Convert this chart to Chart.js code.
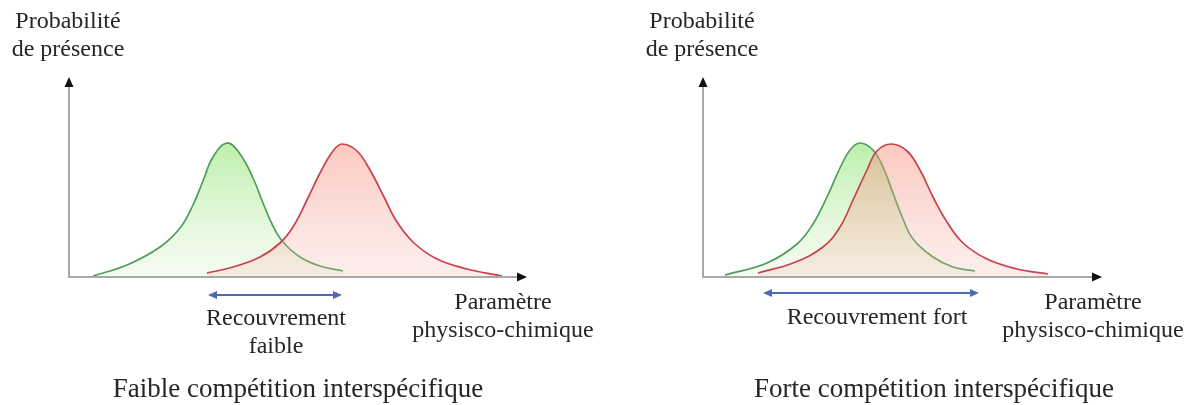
<!DOCTYPE html>
<html>
<head>
<meta charset="utf-8">
<script src="https://cdn.jsdelivr.net/npm/chart.js@4.4.0/dist/chart.umd.min.js"></script>
<style>
  body { margin: 0; background: #fff; }
  #wrap { position: relative; width: 1190px; height: 405px; overflow: hidden;
          font-family: "Liberation Serif", "Times New Roman", serif; color: #262626; }
  canvas { position: absolute; top: 0; }
  .lbl { position: absolute; font-size: 24px; line-height: 28px; text-align: center;
         white-space: nowrap; transform: translateX(-50%); }
  .ttl { font-size: 27px; line-height: 30px; }
</style>
</head>
<body>
<div id="wrap">
  <canvas id="left" width="595" height="405" style="left:0"></canvas>
  <canvas id="right" width="595" height="405" style="left:595px"></canvas>

  <div class="lbl" style="left:68px;top:6px">Probabilité<br>de présence</div>
  <div class="lbl" style="left:702px;top:6px">Probabilité<br>de présence</div>

  <div class="lbl" style="left:503px;top:287px">Paramètre<br>physisco-chimique</div>
  <div class="lbl" style="left:1093px;top:287px">Paramètre<br>physisco-chimique</div>

  <div class="lbl" style="left:276px;top:303px">Recouvrement<br>faible</div>
  <div class="lbl" style="left:877px;top:302px">Recouvrement fort</div>

  <div class="lbl ttl" style="left:298px;top:373px">Faible compétition interspécifique</div>
  <div class="lbl ttl" style="left:934px;top:373px">Forte compétition interspécifique</div>
</div>

<script>
// x axis: paramètre physico-chimique (arbitrary units), y axis: probabilité de présence
const xMaxLeft = 45.8;
const xMaxRight = 39.9;

// faible compétition
const greenLeftX = [2.4, 5.8, 9.1, 11.1, 12.4, 13.4, 14.4, 15.8, 17.1, 18.4, 19.4, 20.4, 21.4, 23.1, 25.1, 27.4];
const greenLeftY = [0.005, 0.06, 0.15, 0.245, 0.36, 0.48, 0.60, 0.67, 0.615, 0.495, 0.37, 0.255, 0.175, 0.10, 0.055, 0.03];
const redLeftX = [13.8, 16.4, 19.1, 21.1, 22.4, 23.8, 25.1, 26.4, 27.3, 28.8, 30.1, 31.5, 32.8, 34.5, 36.8, 39.8, 43.3];
const redLeftY = [0.02, 0.05, 0.10, 0.17, 0.25, 0.385, 0.52, 0.63, 0.665, 0.63, 0.535, 0.40, 0.275, 0.17, 0.09, 0.04, 0.005];
const overlapLeft = [13.9, 27.3];

// forte compétition
const greenRightX = [2.2, 6.4, 9.4, 11.0, 12.4, 13.7, 14.7, 15.7, 17.0, 18.0, 19.0, 20.0, 21.0, 23.0, 25.0, 27.2];
const greenRightY = [0.01, 0.07, 0.165, 0.265, 0.40, 0.545, 0.635, 0.67, 0.635, 0.55, 0.42, 0.29, 0.19, 0.10, 0.05, 0.03];
const redRightX = [5.5, 9.0, 12.0, 13.7, 15.0, 16.4, 17.4, 18.8, 20.4, 21.7, 23.0, 24.4, 26.0, 28.4, 31.4, 34.5];
const redRightY = [0.02, 0.07, 0.15, 0.25, 0.385, 0.535, 0.63, 0.665, 0.63, 0.535, 0.40, 0.275, 0.17, 0.09, 0.04, 0.015];
const overlapRight = [6.0, 27.6];

const toPoints = (xs, ys) => xs.map((x, i) => ({ x: x, y: ys[i] }));

function fillGradient(top, bottom) {
    return (context) => {
        const { ctx, chartArea, scales } = context.chart;
        if (!chartArea) return top;
        const g = ctx.createLinearGradient(0, scales.y.getPixelForValue(0.67), 0, chartArea.bottom);
        g.addColorStop(0, top);
        g.addColorStop(1, bottom);
        return g;
    };
}

// axes with arrow heads + the blue double arrow under the overlap
const axesArrows = {
    id: 'axesArrows',
    afterDatasetsDraw(chart, args, opts) {
        const { ctx, chartArea: a, scales } = chart;
        ctx.save();
        ctx.strokeStyle = '#a9a9a9';
        ctx.lineWidth = 2;
        ctx.beginPath();
        ctx.moveTo(a.left, a.top + 6);
        ctx.lineTo(a.left, a.bottom);
        ctx.lineTo(a.right - 6, a.bottom);
        ctx.stroke();

        ctx.fillStyle = '#111';
        ctx.beginPath();
        ctx.moveTo(a.left, a.top);
        ctx.lineTo(a.left - 4.5, a.top + 10);
        ctx.lineTo(a.left + 4.5, a.top + 10);
        ctx.fill();
        ctx.beginPath();
        ctx.moveTo(a.right, a.bottom);
        ctx.lineTo(a.right - 10, a.bottom - 4.5);
        ctx.lineTo(a.right - 10, a.bottom + 4.5);
        ctx.fill();

        // overlap arrow
        const x1 = scales.x.getPixelForValue(opts.range[0]);
        const x2 = scales.x.getPixelForValue(opts.range[1]);
        const y = a.bottom + opts.offset;
        ctx.strokeStyle = '#4d6ab3';
        ctx.fillStyle = '#4d6ab3';
        ctx.lineWidth = 2;
        ctx.beginPath();
        ctx.moveTo(x1 + 6, y);
        ctx.lineTo(x2 - 6, y);
        ctx.stroke();
        ctx.beginPath();
        ctx.moveTo(x1, y);
        ctx.lineTo(x1 + 9, y - 4);
        ctx.lineTo(x1 + 9, y + 4);
        ctx.fill();
        ctx.beginPath();
        ctx.moveTo(x2, y);
        ctx.lineTo(x2 - 9, y - 4);
        ctx.lineTo(x2 - 9, y + 4);
        ctx.fill();
        ctx.restore();
    }
};

function makeChart(id, xMax, green, red, range, offset, padding) {
    return new Chart(document.getElementById(id), {
        type: 'line',
        data: {
            datasets: [
                {
                    label: 'Espèce 1',
                    data: green,
                    borderColor: '#4f9d5c',
                    backgroundColor: fillGradient('rgba(140, 228, 110, 0.58)', 'rgba(210, 240, 195, 0.22)'),
                    fill: 'origin',
                    order: 2
                },
                {
                    label: 'Espèce 2',
                    data: red,
                    borderColor: '#c8414f',
                    backgroundColor: fillGradient('rgba(246, 140, 122, 0.48)', 'rgba(245, 180, 168, 0.22)'),
                    fill: 'origin',
                    order: 1
                }
            ]
        },
        options: {
            responsive: false,
            animation: false,
            devicePixelRatio: 1,
            layout: { padding: padding },
            elements: {
                point: { radius: 0 },
                line: { borderWidth: 1.7, tension: 0.4 }
            },
            scales: {
                x: { type: 'linear', min: 0, max: xMax, display: false },
                y: { min: 0, max: 1, display: false }
            },
            plugins: {
                legend: { display: false },
                tooltip: { enabled: false },
                axesArrows: { range: range, offset: offset }
            }
        },
        plugins: [axesArrows]
    });
}

makeChart('left', xMaxLeft, toPoints(greenLeftX, greenLeftY), toPoints(redLeftX, redLeftY),
    overlapLeft, 18, { left: 69, right: 68, top: 77, bottom: 128 });
makeChart('right', xMaxRight, toPoints(greenRightX, greenRightY), toPoints(redRightX, redRightY),
    overlapRight, 16, { left: 108, right: 88, top: 77, bottom: 128 });
</script>
</body>
</html>
